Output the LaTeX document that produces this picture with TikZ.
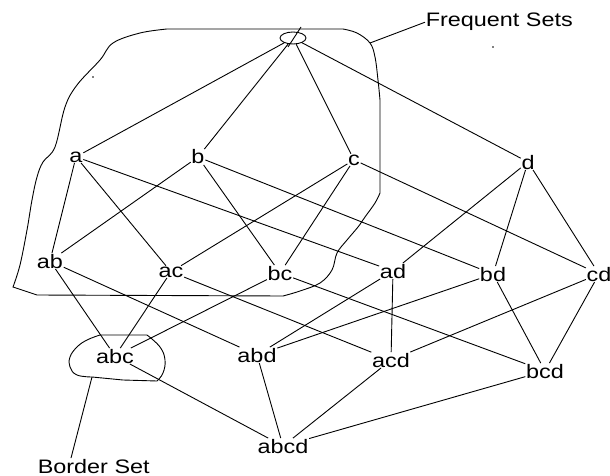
\documentclass[tikz,border=0pt]{standalone}
\usepackage{fontspec}
\setmainfont{Liberation Sans}
\usepackage{graphicx}
\usetikzlibrary{shapes.geometric,calc}
\newcommand{\lbl}[1]{\scalebox{1.2}[1]{#1}}
\begin{document}
\begin{tikzpicture}[x=1pt,y=-1pt,line width=0.9pt,
  lab/.style={inner sep=0.8pt,outer sep=0pt,font=\fontsize{19.5}{22}\selectfont,anchor=base},
  edge/.style={line width=0.9pt},
  outline/.style={line width=0.9pt}]
\useasboundingbox (0,0) rectangle (610,476);
% empty set
\node[draw,ellipse,minimum width=26pt,minimum height=12pt,inner sep=0pt,line width=0.9pt] (e) at (293,38) {};
\draw ($(e)+(8,-11)$) -- ($(e)+(-5,9)$);
% level 1
\node[lab] (a) at (76,162) {\lbl{a}};
\node[lab] (b) at (198,164) {\lbl{b}};
\node[lab] (c) at (354,165) {\lbl{c}};
\node[lab] (d) at (528,169) {\lbl{d}};
% level 2
\node[lab] (ab) at (50,268) {\lbl{ab}};
\node[lab] (ac) at (171,277) {\lbl{ac}};
\node[lab] (bc) at (280,280) {\lbl{bc}};
\node[lab] (ad) at (393,278) {\lbl{ad}};
\node[lab] (bd) at (493,281) {\lbl{bd}};
\node[lab] (cd) at (599,281) {\lbl{cd}};
% level 3
\node[lab] (abc) at (115,363) {\lbl{abc}};
\node[lab] (abd) at (257,362) {\lbl{abd}};
\node[lab] (acd) at (391,367) {\lbl{acd}};
\node[lab] (bcd) at (545,378) {\lbl{bcd}};
% level 4
\node[lab] (abcd) at (283,453) {\lbl{abcd}};
% captions
\node[lab,anchor=base west] (fs) at (425,27) {\lbl{Frequent Sets}};
\node[lab,anchor=base west] (bs) at (37,473) {\lbl{Border Set}};
% edges
\foreach \s/\t in {e/a,e/b,e/c,e/d,
  a/ab,a/ac,a/ad,b/ab,b/bc,b/bd,c/ac,c/bc,c/cd,d/ad,d/bd,d/cd,
  ab/abc,ab/abd,ac/abc,ac/acd,bc/abc,bc/bcd,ad/abd,ad/acd,bd/abd,bd/bcd,cd/acd,cd/bcd,
  abc/abcd,abd/abcd,acd/abcd,bcd/abcd}
  \draw[edge] (\s) -- (\t);
% frequent sets outline
\coordinate (fsl) at (370,43);
\draw[outline] (343,29) -- (167,29)
  -- plot[smooth,tension=0.6] coordinates {(167,29) (140,33) (113,43) (100,60) (77,85) (65,107) (55,147) (43,162) (37,177) (32,200) (27,230) (20,265) (13,287)}
  -- (37,295) -- (283,296)
  -- plot[smooth,tension=0.6] coordinates {(283,296) (300,291) (320,283) (332,270) (337,253) (347,240) (358,227) (365,217) (375,203) (380,193)}
  -- (380,100)
  -- plot[smooth,tension=0.6] coordinates {(380,100) (378,80) (375,57) (370,43) (357,33) (343,29)};
\draw[outline] (fsl) -- (fs.west);
% border set balloon
\coordinate (bsl) at (92,377);
\draw[outline] (100,335) -- (147,335)
  -- plot[smooth,tension=0.7] coordinates {(147,335) (160,347) (165,360) (163,373) (157,381)}
  -- (123,380) -- (bsl)
  -- plot[smooth,tension=0.7] coordinates {(92,377) (77,375) (70,367) (70,357) (77,347) (87,340) (100,335)};
\draw[outline] (bsl) -- ([xshift=34pt]bs.north west);
% specks
\fill (493,47) circle (0.8);
\fill (93,77) circle (0.8);
\end{tikzpicture}
\end{document}
